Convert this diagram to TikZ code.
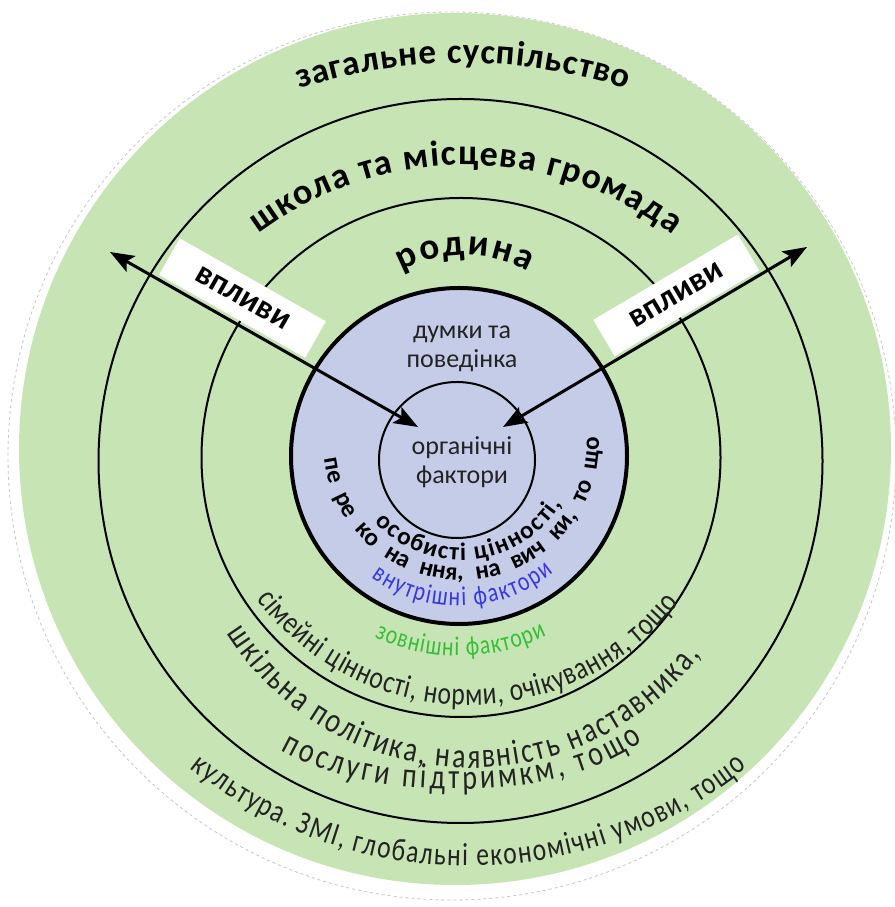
\documentclass[tikz,border=0pt]{standalone}
\usepackage{fontspec}
\setmainfont{Carlito}
\newfontfamily\lowfont[FakeStretch=0.8]{Carlito}
\usetikzlibrary{decorations.text,arrows.meta}
\definecolor{ringgreen}{RGB}{199,229,180}
\definecolor{coreblue}{RGB}{197,204,232}
\definecolor{intblue}{RGB}{55,55,230}
\definecolor{extgreen}{RGB}{55,190,55}
\definecolor{darktext}{RGB}{35,35,35}
\tikzset{
  ring/.style={draw=black, line width=2pt},
  corering/.style={draw=black, line width=4pt, fill=coreblue},
  labelbox/.style={fill=white, minimum width=168pt, minimum height=42pt, inner sep=0pt, anchor=south,
    font=\bfseries\fontsize{33}{33}\selectfont},
  influence/.style={line width=3pt, {Stealth[length=24pt,width=18pt,inset=5pt]}-{Stealth[length=24pt,width=18pt,inset=5pt]}},
  centertext/.style={font=\fontsize{26}{29}\selectfont, text=darktext, align=center, inner sep=0pt},
  fitarc/.style={decorate, decoration={text along path, text align={fit to path}, text={#1}}},
  spacearc/.style={decorate, decoration={text along path, text align={fit to path stretching spaces}, text={#1}}}
}
\begin{document}
\begin{tikzpicture}[x=1pt,y=1pt]
\useasboundingbox (0,0) rectangle (894,907);
\fill[white] (0,0) rectangle (894,907);
% discs and rings
\fill[ringgreen] (455,458) circle[radius=436];
\draw[gray!45, dashed, line width=0.8pt] (452,451) circle[radius=444];
\draw[ring] (460.5,446) circle[radius=362];
\draw[ring] (461,449.5) circle[radius=259.5];
\draw[corering] (459,451) circle[radius=168];
\draw[ring] (457,447) circle[radius=78];
% white label boxes
\node[labelbox, rotate=-29.6] (boxL) at (232,590.5) {впливи};
\node[labelbox, rotate=30.6] (boxR) at (687,593.5) {впливи};
% upper titles
\path[fitarc={|\bfseries\fontsize{35}{35}\selectfont|загальне суспільство}]
  ([shift={(108:530)}]463,314) arc[start angle=108, end angle=72, radius=530];
\path[fitarc={|\bfseries\fontsize{36}{36}\selectfont|школа та місцева громада}]
  ([shift={(126.8:345)}]465,397) arc[start angle=126.8, end angle=53, radius=345];
\path[fitarc={|\bfseries\fontsize{37}{37}\selectfont|родина}]
  ([shift={(119:130)}]465,522) arc[start angle=119, end angle=61, radius=130];
% center labels
\node[centertext] (thoughts) at (462,558) {думки та\\поведінка};
\node[centertext] (organic) at (462,445) {органічні\\фактори};
% inner curved texts
\path[fitarc={|\bfseries\fontsize{25}{25}\selectfont|особисті цінності,}]
  ([shift={(223:118)}]461,465) arc[start angle=223, end angle=328.5, radius=118];
\path[spacearc={|\bfseries\fontsize{25}{25}\selectfont|пе ре ко на ння, на вич ки, то що}]
  ([shift={(187:138)}]461,465) arc[start angle=187, end angle=362, radius=138];
\path[fitarc={|\lowfont\fontsize{27}{27}\selectfont\color{intblue}|внутрішні фактори}]
  ([shift={(234:150)}]459,451) arc[start angle=234, end angle=309, radius=150];
\path[fitarc={|\lowfont\fontsize{27}{27}\selectfont\color{extgreen}|зовнішні фактори}]
  ([shift={(245:200)}]459,451) arc[start angle=245, end angle=296, radius=200];
% outer curved texts
\path[fitarc={|\lowfont\fontsize{32}{32}\selectfont\color{darktext}|сімейні цінності, норми, очікування, тощо}]
  ([shift={(217:266)}]469,468) arc[start angle=217, end angle=322, radius=266];
\path[fitarc={|\lowfont\fontsize{35}{35}\selectfont\color{darktext}|шкільна політика, наявність наставника,}]
  ([shift={(212.5:290)}]471,429) arc[start angle=212.5, end angle=322.3, radius=290];
\path[fitarc={|\lowfont\fontsize{35}{35}\selectfont\color{darktext}|послуги підтримкм, тощо}]
  (281,157) .. controls (330,130) and (380,119) .. (450,118) .. controls (530,117) and (595,132) .. (643,166);
\path[fitarc={|\lowfont\fontsize{32}{32}\selectfont\color{darktext}|культура. ЗМІ, глобальні економічні умови, тощо}]
  ([shift={(231.25:445)}]468.5,486) arc[start angle=231.25, end angle=308.75, radius=445];
% influence arrows
\coordinate (L1) at (110,655);
\coordinate (L2) at (418,480);
\coordinate (R1) at (807,660);
\coordinate (R2) at (503,480);
\draw[influence] (L1) -- (L2);
\draw[influence] (R1) -- (R2);
\end{tikzpicture}
\end{document}
